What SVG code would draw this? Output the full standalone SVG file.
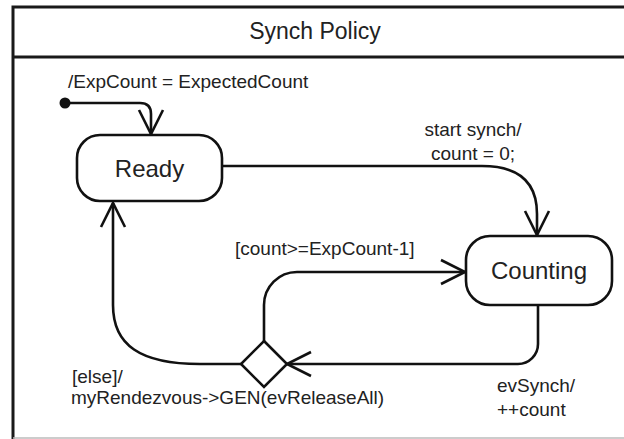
<svg xmlns="http://www.w3.org/2000/svg" width="624" height="439" viewBox="0 0 624 439">
  <style>
    .txt { font-family: "Liberation Sans", Arial, Helvetica, sans-serif; fill: #222; }
    .lbl { font-size: 19px; }
    .state-name { font-size: 24px; text-anchor: middle; }
    .title { font-size: 23px; text-anchor: middle; }
    .state { fill: #fff; stroke: #111; stroke-width: 2.6; }
    .edge { fill: none; stroke: #111; stroke-width: 2.6; marker-end: url(#open-arrow); }
    .frame { fill: none; stroke: #1a1a1a; stroke-width: 3; }
  </style>
  <defs>
    <marker id="open-arrow" markerUnits="userSpaceOnUse" viewBox="-27 -15 30 30" refX="0" refY="0" markerWidth="30" markerHeight="30" orient="auto">
      <path d="M -24 -12 L 0 0 L -24 12" fill="none" stroke="#111" stroke-width="2.6" stroke-linejoin="miter"/>
    </marker>
  </defs>
  <rect x="0" y="0" width="624" height="439" fill="#fff"/>

  <g id="frame">
    <path class="frame" d="M 630 7 H 13 V 440"/>
    <line class="frame" x1="13" y1="57" x2="630" y2="57"/>
    <line x1="13" y1="438" x2="624" y2="438" stroke="#bbb" stroke-width="1.5"/>
    <text class="txt title" x="315" y="39">Synch Policy</text>
  </g>

  <g id="connectors">
    <path class="edge" d="M 65 103 H 140 Q 151 103 151 114 V 134"/>
    <path class="edge" d="M 223 166 H 482 Q 537 166 537 214 V 235"/>
    <path class="edge" d="M 538 306 V 344 A 20 20 0 0 1 518 364 H 287"/>
    <path class="edge" d="M 264 342 V 305 A 33 33 0 0 1 297 272 H 465"/>
    <path class="edge" d="M 241 364 H 200 C 140 364 113 345 113 305 V 203"/>
    <text class="txt lbl" x="68" y="88">/ExpCount = ExpectedCount</text>
    <text class="txt lbl" x="473" y="136" text-anchor="middle">start synch/</text>
    <text class="txt lbl" x="473" y="160" text-anchor="middle">count = 0;</text>
    <text class="txt lbl" x="235" y="255">[count&gt;=ExpCount-1]</text>
    <text class="txt lbl" x="72" y="383">[else]/</text>
    <text class="txt lbl" x="71" y="404">myRendezvous-&gt;GEN(evReleaseAll)</text>
    <text class="txt lbl" x="497" y="392">evSynch/</text>
    <text class="txt lbl" x="497" y="416">++count</text>
  </g>

  <g id="node-initial">
    <circle cx="65" cy="103" r="5.5" fill="#111"/>
  </g>

  <g id="node-ready">
    <rect class="state" x="77" y="135" width="145" height="66" rx="23" ry="23"/>
    <text class="txt state-name" x="149.5" y="177">Ready</text>
  </g>

  <g id="node-counting">
    <rect class="state" x="466" y="236" width="146" height="69" rx="24" ry="24"/>
    <text class="txt state-name" x="539" y="279">Counting</text>
  </g>

  <g id="node-choice">
    <polygon class="state" points="264,341 287,364 264,387 241,364"/>
  </g>
</svg>
